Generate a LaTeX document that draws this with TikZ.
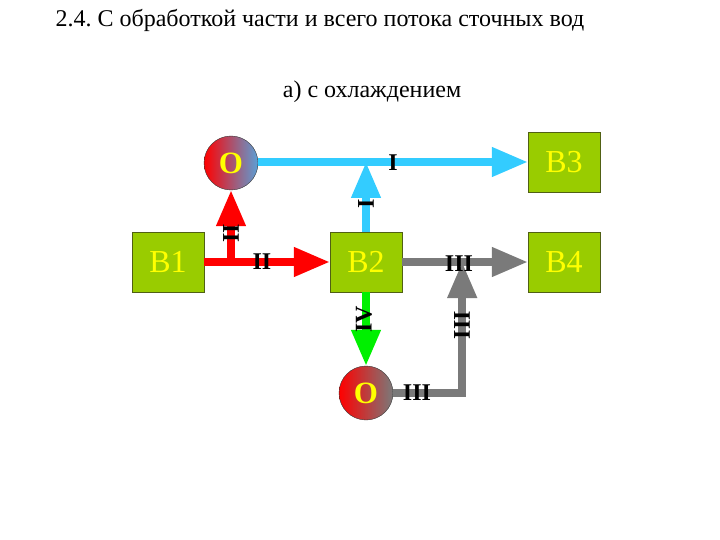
\documentclass[tikz,border=0pt]{standalone}
\usepackage{fontspec}
\setmainfont{Liberation Serif}
\usetikzlibrary{arrows.meta}
\usetikzlibrary{calc}
\definecolor{boxgreen}{RGB}{153,204,0}
\definecolor{boxedge}{RGB}{80,96,20}
\definecolor{boxtext}{RGB}{255,255,0}
\definecolor{coolblue}{RGB}{51,204,255}
\definecolor{circblue}{RGB}{90,160,215}
\definecolor{flowgreen}{RGB}{0,240,0}
\definecolor{flowgray}{RGB}{122,122,122}
\frenchspacing

\begin{document}
\begin{tikzpicture}[x=1pt, y=-1pt]
	\tikzstyle{block}  = [draw=boxedge, fill=boxgreen, minimum width=72pt, minimum height=60pt, inner sep=0pt, text=boxtext, font=\fontsize{32}{32}\selectfont]
	\tikzstyle{cooler} = [circle, draw=black!80, minimum size=54pt, inner sep=0pt, text=boxtext, font=\fontsize{31}{31}\selectfont\bfseries]
	\tikzstyle{flow}   = [line width=7.5pt, -{Triangle[length=36pt, width=28pt]}]
	\tikzstyle{lbl}    = [inner sep=0pt, font=\fontsize{24}{24}\selectfont\bfseries]
	\useasboundingbox (0,0) rectangle (720,540);

	\node [anchor=base west, font=\fontsize{24}{24}\selectfont](title) at (52, 27) {2.4. С обработкой части и всего потока сточных вод};
	\node [anchor=base, font=\fontsize{24}{24}\selectfont](sub) at (372, 98) {а) с охлаждением};

	\node [block](b1) at (168, 262) {B1};
	\node [block](b2) at (366, 262) {B2};
	\node [block](b3) at (564, 162) {B3};
	\node [block](b4) at (564, 262) {B4};
	\node [cooler, left color=red, right color=circblue](o1) at (231, 163) {O};
	\node [cooler, left color=red, right color=flowgray](o2) at (366, 393) {O};

	\coordinate (rj) at ($(o1.south |- b1.east)$);
	\coordinate (bj) at ($(b2.north |- b3.west)$);
	\coordinate (gj) at ($(b2.east) + (60, 0)$);

	\draw[flow, red] (b1.east)--(b2.west);
	\draw[flow, red] (rj)--(o1.south);
	\draw[flow, coolblue] (o1.east |- b3.west)--(b3.west);
	\draw[flow, coolblue] (b2.north)--(bj);
	\draw[flow, flowgray] (b2.east)--(b4.west);
	\draw[flow, flowgray] (o2.east) -| (gj);
	\draw[flow, flowgreen] (b2.south)--(o2.north);

	%%flow labels
	\node [lbl](l1) at (262, 262) {II};
	\node [lbl, rotate=90](l2) at (231, 233) {II};
	\node [lbl](l3) at (393, 163) {I};
	\node [lbl, rotate=90](l4) at (366, 204) {I};
	\node [lbl](l5) at (459, 264) {III};
	\node [lbl, rotate=90](l6) at (462, 325) {III};
	\node [lbl](l7) at (417, 393) {III};
	\node [lbl, rotate=90](l8) at (364, 319) {IV};
\end{tikzpicture}
\end{document}
